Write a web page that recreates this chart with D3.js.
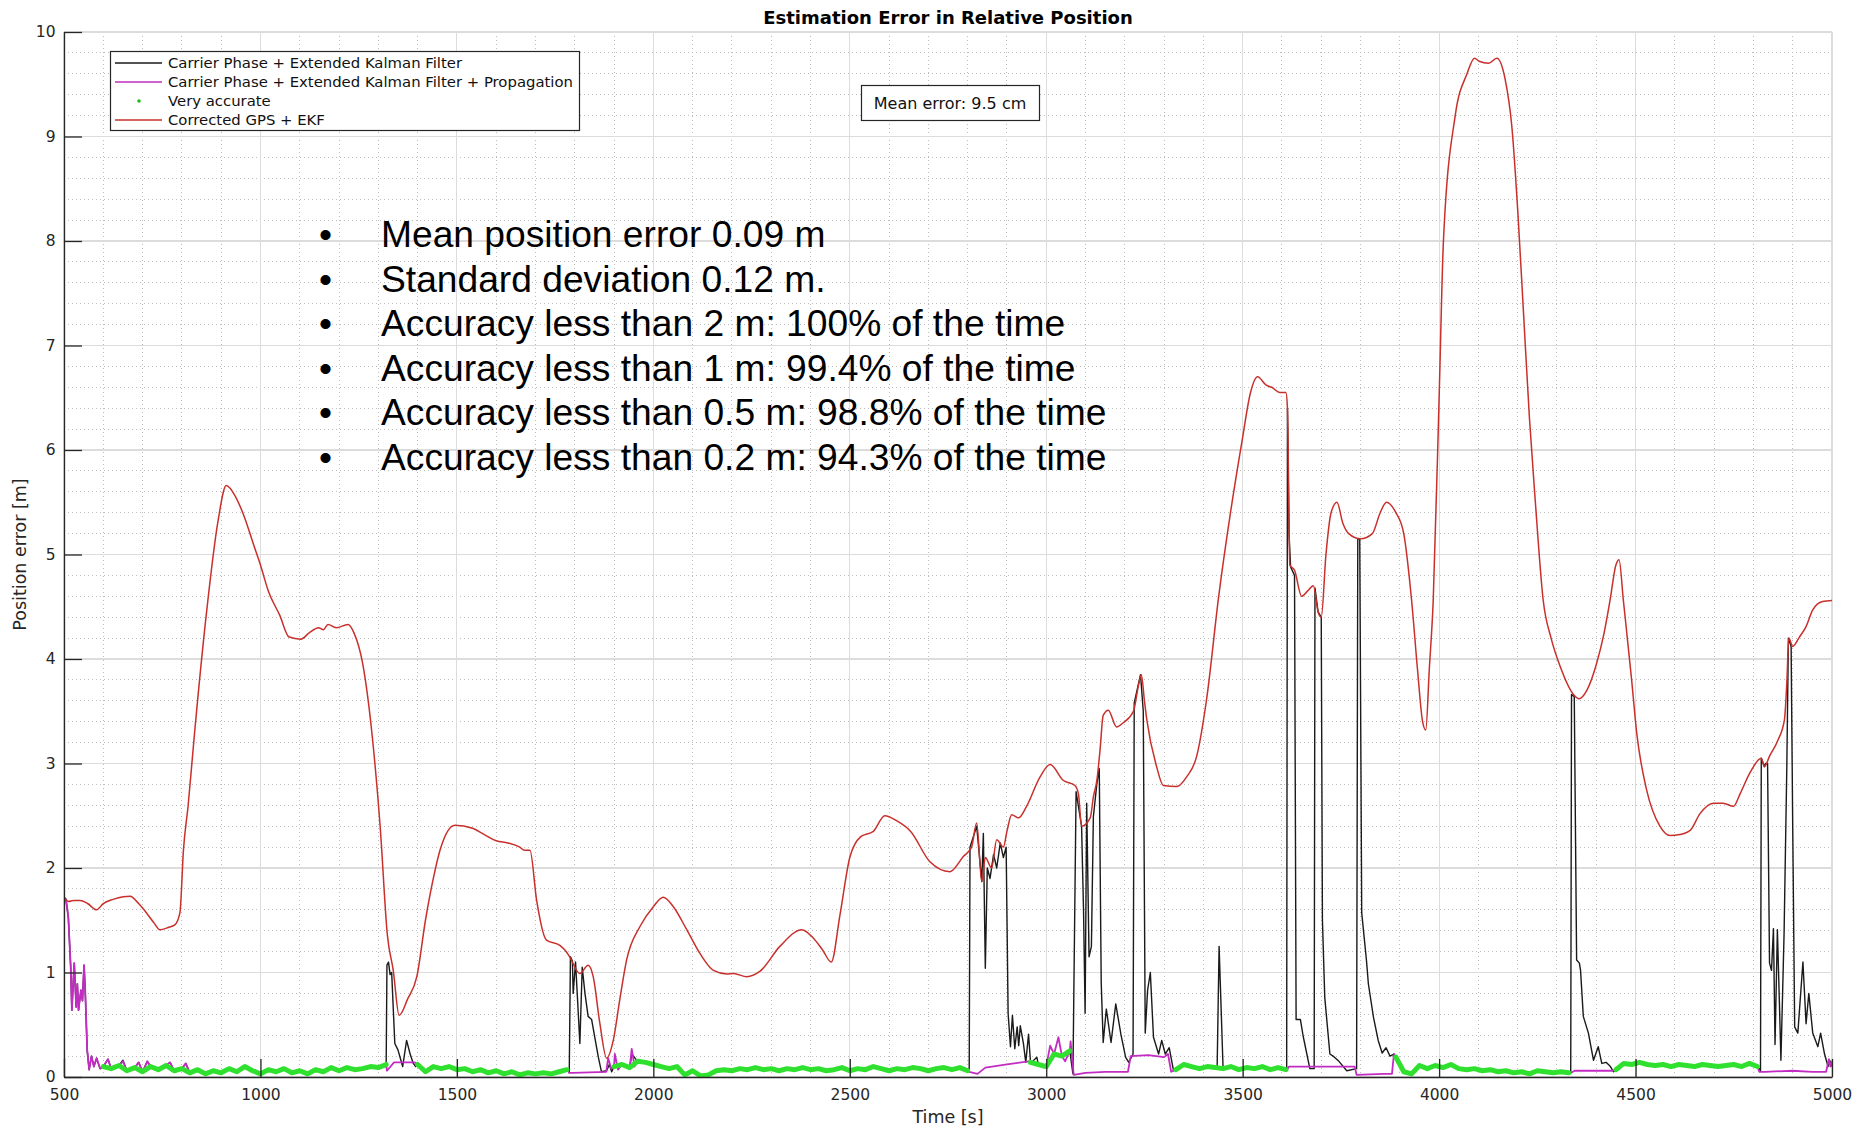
<!DOCTYPE html>
<html>
<head>
<meta charset="utf-8">
<script src="https://cdn.jsdelivr.net/npm/d3@7"></script>
<style>
  body { margin: 0; background: #ffffff; }
  svg { display: block; }
</style>
</head>
<body>
<svg id="chart" width="1857" height="1129"></svg>
<script>
// ---- Axis ticks ----
const timeTicks = [500, 1000, 1500, 2000, 2500, 3000, 3500, 4000, 4500, 5000];
const errorTicks = [0, 1, 2, 3, 4, 5, 6, 7, 8, 9, 10];

// ---- Corrected GPS + EKF (time [s], error [m]) ----
const redTime = [
  500, 512, 524, 541, 560, 583, 600, 625, 651, 668,
  690, 710, 730, 744, 765, 782, 795, 804, 816, 832,
  862, 892, 913, 937, 960, 982, 1000, 1021, 1049, 1073,
  1103, 1124, 1148, 1160, 1172, 1193, 1223, 1238, 1260, 1284,
  1305, 1323, 1338, 1353, 1375, 1398, 1420, 1440, 1457, 1495,
  1540, 1570, 1600, 1630, 1660, 1672, 1686, 1703, 1728, 1762,
  1775, 1787, 1813, 1834, 1847, 1864, 1881, 1898, 1915, 1932,
  1966, 2000, 2025, 2051, 2085, 2119, 2153, 2187, 2204, 2238,
  2271, 2322, 2378, 2407, 2430, 2453, 2475, 2500, 2528, 2560,
  2589, 2620, 2655, 2704, 2755, 2789, 2810, 2823, 2836, 2845,
  2861, 2874, 2891, 2900, 2912, 2930, 2950, 2984, 3010, 3043,
  3073, 3082, 3090, 3112, 3120, 3129, 3137, 3145, 3158, 3179,
  3196, 3222, 3235, 3242, 3250, 3256, 3281, 3298, 3332, 3357,
  3383, 3408, 3439, 3469, 3499, 3520, 3538, 3560, 3574, 3595,
  3610, 3614, 3620, 3632, 3650, 3665, 3680, 3692, 3700, 3712,
  3725, 3740, 3755, 3770, 3800, 3830, 3850, 3866, 3890, 3910,
  3930, 3945, 3958, 3966, 3975, 3985, 4000, 4011, 4041, 4071,
  4090, 4102, 4126, 4147, 4168, 4185, 4200, 4215, 4230, 4245,
  4265, 4285, 4308, 4342, 4356, 4376, 4401, 4420, 4435, 4450,
  4458, 4469, 4490, 4503, 4528, 4562, 4588, 4613, 4639, 4664,
  4698, 4723, 4749, 4766, 4791, 4820, 4828, 4841, 4862, 4879,
  4885, 4890, 4900, 4917, 4934, 4951, 4976, 5000
];
const redErr = [
  1.72, 1.68, 1.69, 1.69, 1.66, 1.60, 1.66, 1.70, 1.725, 1.73,
  1.66, 1.57, 1.47, 1.41, 1.43, 1.455, 1.57, 2.17, 2.60, 3.28,
  4.42, 5.32, 5.66, 5.55, 5.35, 5.10, 4.90, 4.64, 4.42, 4.21,
  4.19, 4.25, 4.30, 4.28, 4.33, 4.30, 4.33, 4.25, 3.96, 3.28,
  2.38, 1.36, 1.02, 0.59, 0.75, 0.96, 1.50, 1.90, 2.17, 2.41,
  2.38, 2.32, 2.26, 2.24, 2.20, 2.17, 2.17, 1.69, 1.31, 1.26,
  1.215, 1.15, 0.99, 1.07, 0.96, 0.51, 0.18, 0.35, 0.75, 1.12,
  1.44, 1.63, 1.72, 1.63, 1.41, 1.18, 1.02, 0.986, 0.99, 0.96,
  1.01, 1.25, 1.41, 1.33, 1.22, 1.10, 1.55, 2.10, 2.30, 2.35,
  2.50, 2.45, 2.35, 2.06, 1.965, 2.11, 2.20, 2.43, 1.87, 2.10,
  2.00, 2.27, 2.20, 2.35, 2.51, 2.48, 2.59, 2.87, 2.99, 2.84,
  2.79, 2.71, 2.40, 2.48, 2.68, 2.84, 3.13, 3.46, 3.51, 3.35,
  3.39, 3.50, 3.75, 3.85, 3.60, 3.42, 2.97, 2.79, 2.78, 2.87,
  3.07, 3.61, 4.60, 5.40, 6.10, 6.55, 6.70, 6.62, 6.60, 6.55,
  6.55, 6.40, 4.90, 4.85, 4.60, 4.65, 4.70, 4.45, 4.40, 5.00,
  5.40, 5.50, 5.30, 5.20, 5.15, 5.20, 5.40, 5.50, 5.40, 5.20,
  4.56, 3.90, 3.40, 3.32, 3.90, 4.56, 6.50, 8.00, 9.20, 9.60,
  9.75, 9.72, 9.70, 9.75, 9.55, 9.10, 8.30, 7.30, 6.30, 5.50,
  4.56, 4.20, 3.93, 3.66, 3.62, 3.70, 3.96, 4.25, 4.56, 4.90,
  4.95, 4.56, 3.80, 3.29, 2.75, 2.40, 2.31, 2.32, 2.36, 2.52,
  2.62, 2.62, 2.59, 2.71, 2.91, 3.05, 2.97, 3.07, 3.22, 3.42,
  3.77, 4.20, 4.12, 4.21, 4.31, 4.47, 4.55, 4.56
];

// ---- "Very accurate" runs: start time of each run, 20 s sampling ----
const greenStart = [600, 1400, 1900, 2960, 3330, 3890, 4450];
const greenStep = 20;
const greenErr = [
  [0.10, 0.08, 0.11, 0.06, 0.09, 0.05, 0.10, 0.07, 0.11, 0.06, 0.08, 0.04, 0.07, 0.03, 0.06, 0.04, 0.08, 0.05, 0.10,
   0.06, 0.03, 0.07, 0.05, 0.08, 0.04, 0.06, 0.03, 0.07, 0.05, 0.09, 0.06, 0.09, 0.07, 0.08, 0.10, 0.09, 0.12],
  [0.12, 0.05, 0.10, 0.08, 0.10, 0.07, 0.08, 0.05, 0.07, 0.04, 0.06, 0.03, 0.05, 0.02, 0.04, 0.03, 0.04, 0.03, 0.05, 0.07],
  [0.10, 0.12, 0.09, 0.15, 0.14, 0.12, 0.10, 0.08, 0.10, 0.02, 0.06, 0.01, 0.02, 0.06, 0.07, 0.06, 0.08, 0.07, 0.09,
   0.07, 0.08, 0.06, 0.08, 0.07, 0.09, 0.07, 0.08, 0.06, 0.07, 0.09, 0.06, 0.08, 0.07, 0.10, 0.08, 0.06, 0.08, 0.07,
   0.09, 0.08, 0.06, 0.08, 0.09, 0.07, 0.09, 0.06],
  [0.14, 0.12, 0.10, 0.22, 0.20, 0.25],
  [0.07, 0.12, 0.10, 0.08, 0.10, 0.09, 0.08, 0.10, 0.07, 0.09, 0.08, 0.10, 0.07, 0.09, 0.07],
  [0.19, 0.05, 0.03, 0.11, 0.08, 0.11, 0.09, 0.12, 0.08, 0.07, 0.08, 0.06, 0.07, 0.05, 0.06, 0.04, 0.05, 0.03, 0.06,
   0.05, 0.04, 0.05, 0.04],
  [0.07, 0.13, 0.12, 0.14, 0.12, 0.11, 0.12, 0.10, 0.12, 0.11, 0.10, 0.12, 0.11, 0.10, 0.11, 0.12, 0.10, 0.13, 0.10]
];

// ---- Carrier Phase + EKF: samples outside the "very accurate" runs ----
const blackTime = [
  500, 505, 511, 517, 520, 526, 531, 534, 537, 543, 547, 551, 554, 559, 564, 570, 576, 583, 592,
  612, 650, 690, 712, 770, 810,
  1318, 1322, 1326, 1330, 1334, 1342, 1350, 1362, 1372, 1381, 1389, 1395,
  1786, 1789, 1794, 1796, 1802, 1806, 1813, 1819, 1826, 1834, 1843, 1851, 1860, 1868, 1881, 1888, 1894, 1945,
  2804, 2806, 2823, 2836, 2840, 2845, 2850, 2857, 2866, 2874, 2883, 2891, 2898, 2903, 2909, 2914, 2920, 2926,
  2930, 2934, 2942, 2948, 2955, 2963, 2976, 2993,
  3068, 3076, 3090, 3095, 3099, 3103, 3109, 3115, 3120, 3129, 3135, 3140, 3145, 3153, 3165, 3177, 3190, 3202,
  3210, 3221, 3224, 3240, 3247, 3252, 3258, 3265, 3273, 3286, 3294, 3303, 3313, 3324,
  3435, 3440, 3450,
  3612, 3614, 3618, 3622, 3632, 3636, 3647, 3654, 3671, 3682, 3684, 3692, 3700, 3703, 3709, 3722, 3730, 3745,
  3765, 3790, 3793, 3798, 3803, 3815, 3820, 3833, 3845, 3855, 3865, 3875, 3885,
  4335, 4337, 4344, 4350, 4357, 4360, 4367, 4380, 4393, 4405, 4414, 4425, 4436, 4444,
  4818, 4820, 4828, 4831, 4836, 4841, 4846, 4851, 4855, 4861, 4866, 4870, 4878, 4885, 4889, 4896, 4900, 4905,
  4913, 4926, 4934, 4941, 4951, 4964, 4971, 4981, 4990, 4994, 5000
];
const blackErr = [
  1.72, 1.70, 1.53, 1.06, 0.64, 1.09, 0.67, 0.89, 0.64, 0.83, 0.73, 1.07, 0.83, 0.26, 0.07, 0.20, 0.10, 0.18, 0.08,
  0.17, 0.16, 0.14, 0.15, 0.14, 0.13,
  0.10, 1.07, 1.10, 0.98, 1.00, 0.32, 0.26, 0.10, 0.35, 0.22, 0.13, 0.10,
  0.04, 1.15, 1.11, 0.80, 1.10, 0.82, 0.32, 1.05, 0.80, 0.58, 0.55, 0.38, 0.19, 0.05, 0.06, 0.12, 0.05, 0.22,
  0.08, 2.20, 2.40, 1.87, 2.33, 1.04, 2.00, 1.90, 2.13, 2.00, 2.24, 2.10, 2.20, 0.61, 0.29, 0.59, 0.27, 0.48,
  0.30, 0.49, 0.32, 0.14, 0.41, 0.14, 0.19, 0.09,
  0.03, 2.73, 2.40, 1.59, 0.61, 2.62, 1.15, 1.25, 2.49, 2.81, 2.95, 0.90, 0.33, 0.65, 0.33, 0.70, 0.41, 0.19,
  0.14, 0.22, 3.58, 3.85, 3.50, 0.42, 0.83, 1.00, 0.38, 0.22, 0.35, 0.22, 0.28, 0.06,
  0.08, 1.25, 0.10,
  0.07, 6.40, 5.20, 4.88, 4.80, 0.55, 0.55, 0.39, 0.08, 0.08, 4.68, 4.45, 4.40, 1.50, 0.76, 0.22, 0.20, 0.15,
  0.06, 0.08, 5.15, 5.15, 1.57, 1.12, 0.89, 0.57, 0.35, 0.23, 0.28, 0.20, 0.22,
  0.04, 3.66, 3.64, 1.12, 1.09, 1.02, 0.58, 0.42, 0.16, 0.29, 0.13, 0.14, 0.10, 0.05,
  0.06, 3.05, 2.97, 3.00, 3.00, 1.09, 1.02, 1.42, 0.31, 1.41, 0.73, 0.16, 1.37, 2.97, 4.20, 4.12, 2.40, 0.48,
  0.42, 1.10, 0.51, 0.80, 0.42, 0.29, 0.42, 0.22, 0.10, 0.16, 0.10
];

// ---- Carrier Phase + EKF + Propagation: samples outside the "very accurate" runs ----
const magentaTime = [
  500, 505, 511, 517, 520, 526, 531, 534, 537, 543, 547, 551, 554, 559, 564, 570, 576, 583, 592,
  612, 650, 690, 712, 770, 810,
  1322, 1340, 1392,
  1786, 1795, 1880, 1885, 1893, 1902, 1910, 1945, 1952,
  2804, 2825, 2845, 2900, 2955,
  3010, 3031, 3048, 3062, 3070, 3100, 3150, 3208, 3215, 3260, 3300, 3310, 3318,
  3613, 3618, 3700, 3785, 3790, 3860, 3880, 3885,
  4336, 4345, 4440,
  4815, 4830, 4900, 4950, 4985, 4992, 4996, 5000
];
const magentaErr = [
  1.72, 1.70, 1.53, 1.06, 0.64, 1.09, 0.67, 0.89, 0.64, 0.83, 0.73, 1.07, 0.83, 0.26, 0.07, 0.20, 0.10, 0.18, 0.08,
  0.17, 0.15, 0.14, 0.15, 0.14, 0.13,
  0.06, 0.14, 0.14,
  0.04, 0.04, 0.05, 0.18, 0.08, 0.22, 0.07, 0.27, 0.10,
  0.05, 0.03, 0.09, 0.12, 0.15,
  0.30, 0.38, 0.15, 0.34, 0.02, 0.04, 0.05, 0.05, 0.20, 0.21, 0.19, 0.22, 0.05,
  0.07, 0.10, 0.10, 0.10, 0.02, 0.03, 0.03, 0.22,
  0.04, 0.06, 0.06,
  0.05, 0.05, 0.06, 0.05, 0.05, 0.17, 0.10, 0.15
];

const legendLabels = [
  "Carrier Phase + Extended Kalman Filter",
  "Carrier Phase + Extended Kalman Filter + Propagation",
  "Very accurate",
  "Corrected GPS + EKF"
];
const summaryLines = [
  "Mean position error 0.09 m",
  "Standard deviation 0.12 m.",
  "Accuracy less than 2 m: 100% of the time",
  "Accuracy less than 1 m: 99.4% of the time",
  "Accuracy less than 0.5 m: 98.8% of the time",
  "Accuracy less than 0.2 m: 94.3% of the time"
];

// ---- Layout ----
const plot = { left: 64, top: 32, right: 1832, bottom: 1077 };
const colors = { black: "#1a1a1a", magenta: "#c22cc2", green: "#2fe02f", red: "#c8302c", axis: "#262626" };
const axisFont = "'DejaVu Sans', Verdana, sans-serif";

const svg = d3.select("#chart");
const x = d3.scaleLinear().domain([500, 5000]).range([plot.left, plot.right]);
const y = d3.scaleLinear().domain([0, 10]).range([plot.bottom, plot.top]);

// ---- Grid ----
const grid = svg.append("g").attr("shape-rendering", "crispEdges");
const minorT = d3.range(500, 5001, 100).filter(t => t % 500 !== 0);
const minorE = d3.range(1, 50).map(i => i / 5).filter(v => Math.abs(v - Math.round(v)) > 1e-6);
grid.selectAll("line.mx").data(minorT).join("line")
  .attr("x1", d => x(d)).attr("x2", d => x(d)).attr("y1", plot.top).attr("y2", plot.bottom)
  .attr("stroke", "#bdbdbd").attr("stroke-width", 1).attr("stroke-dasharray", "1,3");
grid.selectAll("line.my").data(minorE).join("line")
  .attr("x1", plot.left).attr("x2", plot.right).attr("y1", d => y(d)).attr("y2", d => y(d))
  .attr("stroke", "#bdbdbd").attr("stroke-width", 1).attr("stroke-dasharray", "1,3");
grid.selectAll("line.gx").data(timeTicks).join("line")
  .attr("x1", d => x(d)).attr("x2", d => x(d)).attr("y1", plot.top).attr("y2", plot.bottom)
  .attr("stroke", "#dcdcdc").attr("stroke-width", 1.2);
grid.selectAll("line.gy").data(errorTicks).join("line")
  .attr("x1", plot.left).attr("x2", plot.right).attr("y1", d => y(d)).attr("y2", d => y(d))
  .attr("stroke", "#dcdcdc").attr("stroke-width", 1.2);

// ---- Series ----
svg.append("clipPath").attr("id", "plotClip").append("rect")
  .attr("x", plot.left).attr("y", plot.top)
  .attr("width", plot.right - plot.left).attr("height", plot.bottom - plot.top);
const series = svg.append("g").attr("clip-path", "url(#plotClip)");

const greenPoints = greenErr.map((run, r) => run.map((v, i) => [greenStart[r] + i * greenStep, v]));
const allGreen = greenPoints.flat();
const zip = (ts, vs) => ts.map((t, i) => [t, vs[i]]);
const merged = own => own.concat(allGreen).sort((a, b) => a[0] - b[0]);

const lineLin = d3.line().x(d => x(d[0])).y(d => y(d[1]));
const lineSmooth = d3.line().x(d => x(d[0])).y(d => y(d[1])).curve(d3.curveMonotoneX);

series.append("path").datum(merged(zip(blackTime, blackErr)))
  .attr("d", lineLin).attr("fill", "none").attr("stroke", colors.black)
  .attr("stroke-width", 1.4).attr("stroke-linejoin", "round");
series.append("path").datum(merged(zip(magentaTime, magentaErr)))
  .attr("d", lineLin).attr("fill", "none").attr("stroke", colors.magenta)
  .attr("stroke-width", 1.8).attr("stroke-linejoin", "round");
series.selectAll("path.green").data(greenPoints).join("path")
  .attr("d", lineLin).attr("fill", "none").attr("stroke", colors.green)
  .attr("stroke-width", 5).attr("stroke-linejoin", "round").attr("stroke-linecap", "round");
series.append("path").datum(zip(redTime, redErr))
  .attr("d", lineSmooth).attr("fill", "none").attr("stroke", colors.red)
  .attr("stroke-width", 1.5).attr("stroke-linejoin", "round");

// ---- Axes ----
const xAxis = svg.append("g").attr("transform", `translate(0,${plot.bottom})`)
  .call(d3.axisBottom(x).tickValues(timeTicks).tickSize(-18).tickSizeOuter(0).tickPadding(12).tickFormat(d3.format("d")));
const yAxis = svg.append("g").attr("transform", `translate(${plot.left},0)`)
  .call(d3.axisLeft(y).tickValues(errorTicks).tickSize(-18).tickSizeOuter(0).tickPadding(8.5).tickFormat(d3.format("d")));
[xAxis, yAxis].forEach(g => {
  g.select(".domain").attr("stroke", colors.axis).attr("stroke-width", 1.3);
  g.selectAll(".tick line").attr("stroke", colors.axis).attr("stroke-width", 1.3);
  g.selectAll(".tick text").attr("fill", colors.axis)
    .style("font-family", axisFont).style("font-size", "15.5px");
});

// ---- Titles ----
svg.append("text").attr("x", (plot.left + plot.right) / 2).attr("y", 23.5)
  .attr("text-anchor", "middle").style("font-family", axisFont).style("font-size", "18px")
  .style("font-weight", "bold").attr("fill", "#000").text("Estimation Error in Relative Position");
svg.append("text").attr("x", (plot.left + plot.right) / 2).attr("y", 1123)
  .attr("text-anchor", "middle").style("font-family", axisFont).style("font-size", "17.5px")
  .attr("fill", colors.axis).text("Time [s]");
svg.append("text").attr("transform", `translate(26,${(plot.top + plot.bottom) / 2}) rotate(-90)`)
  .attr("text-anchor", "middle").style("font-family", axisFont).style("font-size", "17.5px")
  .attr("fill", colors.axis).text("Position error [m]");

// ---- Legend ----
const legend = svg.append("g");
legend.append("rect").attr("x", 110.5).attr("y", 51.5).attr("width", 469).attr("height", 79)
  .attr("fill", "#fff").attr("stroke", colors.axis).attr("stroke-width", 1.2);
const legendColors = [colors.black, colors.magenta, colors.green, colors.red];
legendLabels.forEach((label, i) => {
  const ly = 63 + i * 19;
  if (i === 2) {
    legend.append("circle").attr("cx", 139).attr("cy", ly).attr("r", 1.8).attr("fill", "#22b822");
  } else {
    legend.append("line").attr("x1", 115).attr("x2", 162).attr("y1", ly).attr("y2", ly)
      .attr("stroke", legendColors[i]).attr("stroke-width", 1.3);
  }
  legend.append("text").attr("x", 168).attr("y", ly).attr("dy", "0.36em")
    .style("font-family", axisFont).style("font-size", "14.85px").attr("fill", "#111").text(label);
});

// ---- Mean error annotation ----
svg.append("rect").attr("x", 861.5).attr("y", 85.5).attr("width", 178).attr("height", 35)
  .attr("fill", "#fff").attr("stroke", colors.axis).attr("stroke-width", 1.2);
svg.append("text").attr("x", 950).attr("y", 108.5).attr("text-anchor", "middle")
  .style("font-family", axisFont).style("font-size", "16px").attr("fill", "#111")
  .text("Mean error: 9.5 cm");

// ---- Summary statistics ----
const summary = svg.append("g").style("font-family", "'Liberation Sans', Arial, sans-serif")
  .style("font-size", "37.2px").attr("fill", "#000");
summaryLines.forEach((line, i) => {
  const by = 247 + i * 44.5;
  summary.append("text").attr("x", 319).attr("y", by).text("\u2022");
  summary.append("text").attr("x", 381).attr("y", by).text(line);
});
</script>
</body>
</html>
